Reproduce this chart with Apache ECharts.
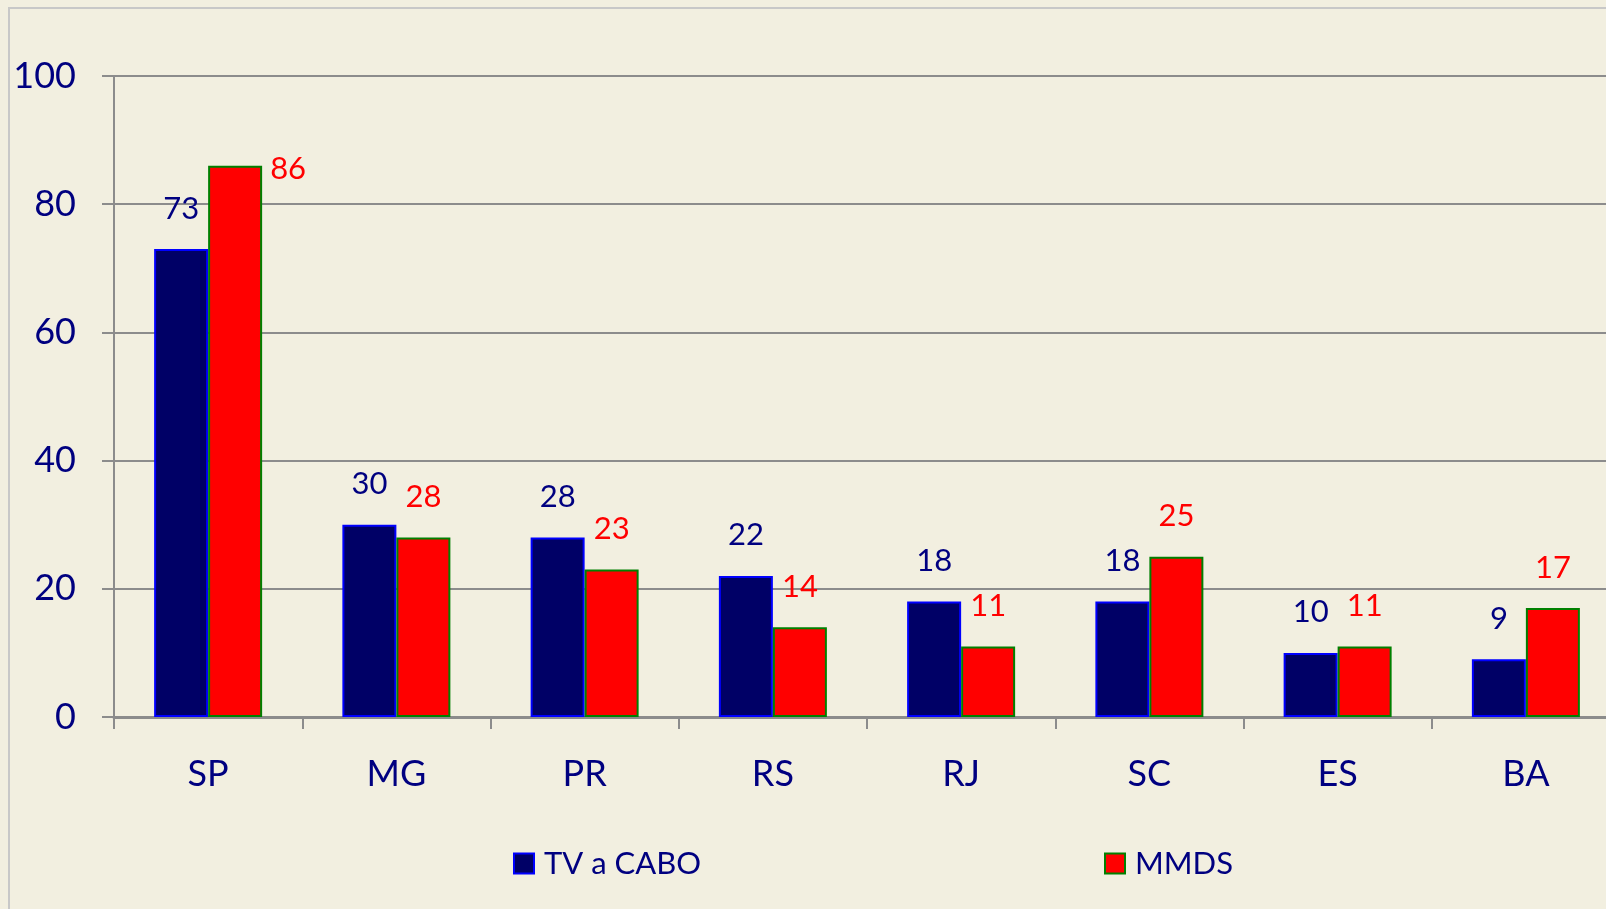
<!DOCTYPE html>
<html>
<head>
<meta charset="utf-8">
<script src="https://cdn.jsdelivr.net/npm/echarts@6/dist/echarts.min.js"></script>
<style>
    html, body {margin: 0; padding: 0; background: #f2efe0; overflow: hidden;}
    /* the plot runs past the right edge of the window, as in the original */
    #chart {width: 1630px; height: 909px;}
</style>
</head>
<body>
<div id="chart"></div>
<script>
var categories = ['SP', 'MG', 'PR', 'RS', 'RJ', 'SC', 'ES', 'BA'];
var tvCabo = [73, 30, 28, 22, 18, 18, 10, 9];
var mmds = [86, 28, 23, 14, 11, 25, 11, 17];
var yTicks = {min: 0, max: 100, interval: 20};

var navy = '#000080';
var font = 'Lato';

// the tallest MMDS bar has its label beside it, not above
var mmdsData = mmds.map(function (v, i) {
    if (i === 0) {
        return {
            value: v,
            label: {position: ['100%', 0], align: 'left', verticalAlign: 'middle', offset: [8, 3]}
        };
    }
    return v;
});

var myChart = echarts.init(document.getElementById('chart'));
var option = {
    backgroundColor: '#f2efe0',
    animation: false,
    textStyle: {fontFamily: font},
    graphic: [{
        type: 'rect',
        z: -1,
        shape: {x: 9, y: 8, width: 1700, height: 1000},
        style: {fill: 'none', stroke: '#c8c8c8', lineWidth: 2}
    }],
    grid: {left: 114, top: 76, bottom: 192, width: 1506},
    legend: [{
        left: 508,
        top: 843,
        icon: 'rect',
        itemWidth: 20,
        itemHeight: 20,
        data: [{name: 'TV a CABO', itemStyle: {color: '#000066', borderColor: '#0000ff', borderWidth: 2}}],
        textStyle: {color: navy, fontSize: 31, fontFamily: font, padding: [0, 0, 0, 5]}
    }, {
        left: 1099,
        top: 843,
        icon: 'rect',
        itemWidth: 20,
        itemHeight: 20,
        data: [{name: 'MMDS', itemStyle: {color: '#ff0000', borderColor: '#008000', borderWidth: 2}}],
        textStyle: {color: navy, fontSize: 31, fontFamily: font, padding: [0, 0, 0, 5]}
    }],
    xAxis: {
        type: 'category',
        data: categories,
        axisLine: {lineStyle: {color: '#8c8c8c', width: 3}},
        axisTick: {show: true, length: 12, interval: 0, lineStyle: {color: '#8c8c8c', width: 2}},
        axisLabel: {color: navy, fontSize: 36, fontFamily: font, margin: 39, lineHeight: 36, interval: 0}
    },
    yAxis: {
        type: 'value',
        min: yTicks.min,
        max: yTicks.max,
        interval: yTicks.interval,
        axisLine: {show: true, lineStyle: {color: '#8c8c8c', width: 2}},
        axisTick: {show: true, length: 12, lineStyle: {color: '#8c8c8c', width: 2}},
        axisLabel: {color: navy, fontSize: 36, fontFamily: font, margin: 38},
        splitLine: {lineStyle: {color: '#8c8c8c', width: 2}}
    },
    series: [{
        name: 'TV a CABO',
        type: 'bar',
        data: tvCabo,
        barWidth: 54,
        barGap: '0%',
        itemStyle: {color: '#000066', borderColor: '#0000ff', borderWidth: 2},
        label: {show: true, position: 'top', distance: 25, color: navy, fontSize: 31, fontFamily: font, lineHeight: 31}
    }, {
        name: 'MMDS',
        type: 'bar',
        data: mmdsData,
        barWidth: 54,
        barGap: '0%',
        itemStyle: {color: '#ff0000', borderColor: '#008000', borderWidth: 2},
        label: {show: true, position: 'top', distance: 25, color: '#ff0000', fontSize: 31, fontFamily: font, lineHeight: 31}
    }]
};
myChart.setOption(option);
</script>
</body>
</html>
